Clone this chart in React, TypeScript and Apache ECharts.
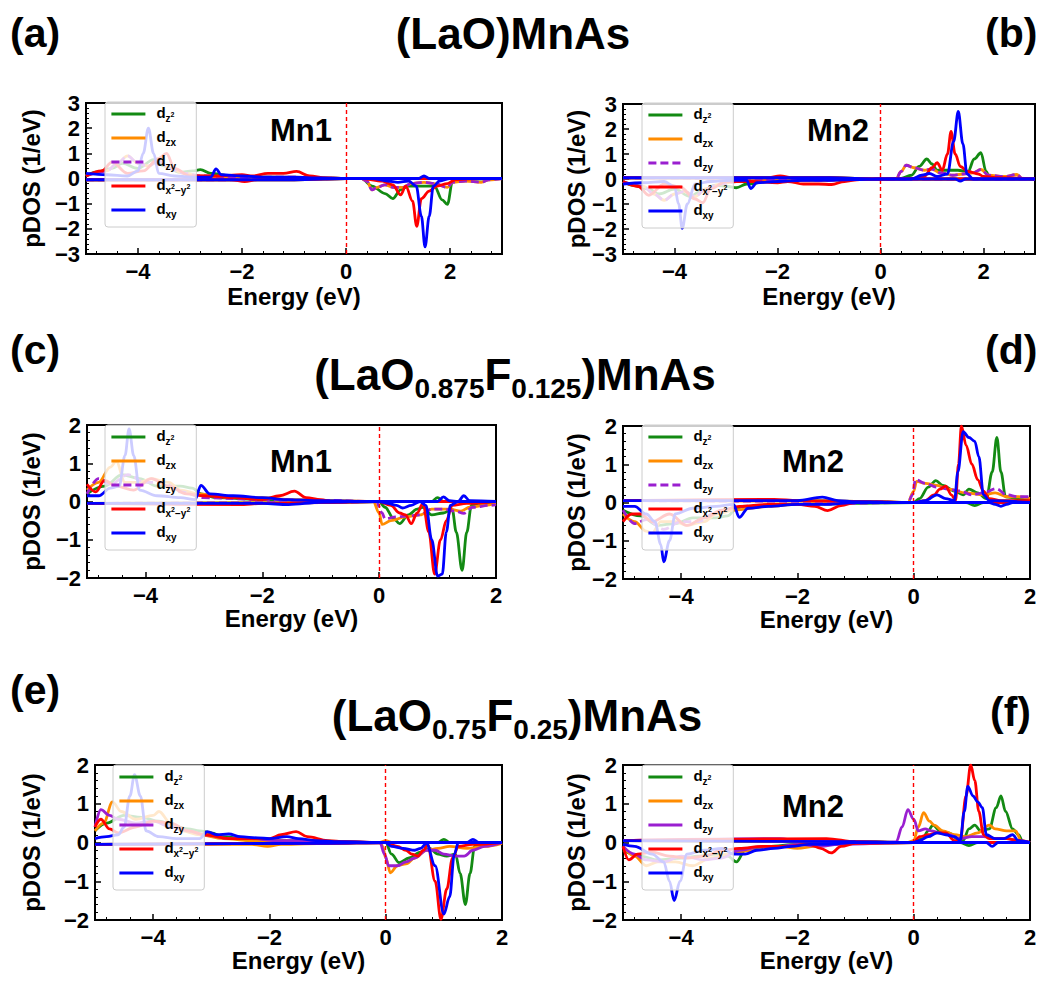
import React, { useEffect, useRef } from 'react';
import * as echarts from 'echarts';

const FONT = '"Liberation Sans", Arial, Helvetica, sans-serif';

// ---------- data: [energy (eV), pDOS (1/eV)] ----------
// Panel (a) (LaO)MnAs Mn1
const A_z2_up = [[-5,0.1],[-4.8,0.25],[-4.5,0.4],[-4.3,0.6],[-4.0,0.4],[-3.7,0.75],[-3.5,0.5],[-3.2,0.25],[-2.95,0.3],[-2.8,0.35],[-2.6,0.2],[-2.2,0.1],[-1.5,0.05],[-0.5,0.02],[0,0],[3,0]];
const A_z2_dn = [[-5,-0.05],[-1,-0.05],[0,0],[0.3,0],[0.5,-0.3],[0.75,-0.6],[0.9,-0.8],[1.05,-0.45],[1.2,-0.3],[1.5,-0.3],[1.7,-0.3],[1.85,-0.85],[1.95,-1.03],[2.05,-0.1],[2.3,-0.05],[2.8,0],[3,0]];
const A_zx_up = [[-5,0.1],[-4.6,0.3],[-4.4,0.6],[-4.2,0.9],[-4.0,0.6],[-3.8,0.5],[-3.6,0.7],[-3.4,0.4],[-3.1,0.2],[-2.8,0.1],[-2,0.05],[-1,0.05],[-0.5,0.02],[0,0],[3,0]];
const A_zx_dn = [[-5,-0.05],[-2,-0.05],[-1,-0.03],[0,0],[0.3,0],[0.4,-0.1],[0.5,-0.45],[0.6,-0.35],[0.75,-0.25],[0.9,-0.35],[1.1,-0.35],[1.25,-0.2],[1.5,-0.15],[1.7,-0.2],[1.95,-0.35],[2.05,-0.15],[2.3,-0.1],[2.6,-0.15],[2.75,-0.05],[3,0]];
const A_zy_up = [[-5,0.1],[-4.6,0.3],[-4.4,0.6],[-4.2,0.9],[-4.0,0.6],[-3.8,0.5],[-3.6,0.7],[-3.4,0.4],[-3.1,0.2],[-2.8,0.1],[-2,0.05],[-1,0.05],[-0.5,0.02],[0,0],[3,0]];
const A_zy_dn = [[-5,-0.05],[-2,-0.05],[-1,-0.03],[0,0],[0.3,0],[0.4,-0.1],[0.5,-0.45],[0.6,-0.35],[0.75,-0.25],[0.9,-0.35],[1.1,-0.35],[1.25,-0.2],[1.5,-0.15],[1.7,-0.2],[1.95,-0.35],[2.05,-0.15],[2.3,-0.1],[2.6,-0.15],[2.75,-0.05],[3,0]];
const A_x2_up = [[-5,0.1],[-4.7,0.3],[-4.5,0.65],[-4.2,0.2],[-3.9,0.3],[-3.6,0.8],[-3.45,1.0],[-3.3,0.4],[-3.0,0.1],[-2.5,0.1],[-2.0,0.15],[-1.8,0.1],[-1.5,0.2],[-1.2,0.2],[-0.95,0.28],[-0.7,0.1],[-0.4,0.02],[0,0],[3,0]];
const A_x2_dn = [[-5,-0.05],[-2.2,-0.05],[-1.95,-0.12],[-1.7,-0.05],[-1,-0.05],[0,0],[0.3,0],[0.7,-0.1],[0.9,-0.25],[1.05,-0.65],[1.15,-0.3],[1.28,-0.9],[1.36,-1.9],[1.45,-0.8],[1.6,-0.5],[1.75,-0.3],[1.95,-0.2],[2.1,-0.05],[2.5,0],[3,0]];
const A_xy_up = [[-5,0.2],[-4.6,0.15],[-4.2,0.1],[-4.0,0.3],[-3.9,1.0],[-3.8,2.0],[-3.7,1.0],[-3.6,0.2],[-3.3,0.1],[-2.9,0.05],[-2.6,0.05],[-2.5,0.38],[-2.4,0.15],[-2.0,0.1],[-1.5,0.05],[-1.0,0.05],[-0.5,0.02],[0,0],[1.4,0],[1.5,0.1],[1.6,0],[3,0]];
const A_xy_dn = [[-5,-0.05],[-1,-0.05],[0,0],[0.5,0],[0.8,-0.1],[1.0,-0.15],[1.2,-0.1],[1.35,-0.3],[1.45,-1.5],[1.52,-2.72],[1.6,-1.5],[1.68,-0.3],[1.8,-0.1],[2.0,0],[3,0]];

// Panel (b) (LaO)MnAs Mn2
const B_z2_up = [[-5,0.05],[-2,0.05],[-1,0.05],[0,0],[0.4,0.02],[0.6,0.15],[0.75,0.5],[0.9,0.8],[1.0,0.6],[1.1,0.35],[1.3,0.35],[1.5,0.35],[1.7,0.3],[1.82,0.8],[1.95,1.05],[2.05,0.3],[2.12,0.05],[3,0]];
const B_z2_dn = [[-5,-0.1],[-4.8,-0.25],[-4.5,-0.4],[-4.3,-0.6],[-4.0,-0.4],[-3.7,-0.7],[-3.5,-0.5],[-3.2,-0.25],[-2.95,-0.3],[-2.8,-0.35],[-2.6,-0.2],[-2.2,-0.1],[-1.5,-0.05],[-0.5,-0.02],[0,0],[3,0]];
const B_zx_up = [[-5,0.05],[-1,0.03],[0,0],[0.3,0],[0.4,0.3],[0.5,0.55],[0.65,0.45],[0.85,0.35],[1.0,0.4],[1.15,0.25],[1.4,0.15],[1.6,0.2],[1.8,0.25],[1.95,0.38],[2.1,0.15],[2.4,0.1],[2.65,0.18],[2.75,0.02],[3,0]];
const B_zx_dn = [[-5,-0.1],[-4.6,-0.3],[-4.4,-0.6],[-4.2,-0.85],[-4.0,-0.6],[-3.8,-0.5],[-3.6,-0.7],[-3.4,-0.4],[-3.1,-0.2],[-2.8,-0.1],[-2,-0.05],[-1,-0.05],[-0.5,-0.02],[0,0],[3,0]];
const B_zy_up = [[-5,0.05],[-1,0.03],[0,0],[0.3,0],[0.4,0.3],[0.5,0.55],[0.65,0.45],[0.85,0.35],[1.0,0.4],[1.15,0.25],[1.4,0.15],[1.6,0.2],[1.8,0.25],[1.95,0.38],[2.1,0.15],[2.4,0.1],[2.65,0.18],[2.75,0.02],[3,0]];
const B_zy_dn = [[-5,-0.1],[-4.6,-0.3],[-4.4,-0.6],[-4.2,-0.85],[-4.0,-0.6],[-3.8,-0.5],[-3.6,-0.7],[-3.4,-0.4],[-3.1,-0.2],[-2.8,-0.1],[-2,-0.05],[-1,-0.05],[-0.5,-0.02],[0,0],[3,0]];
const B_x2_up = [[-5,0.05],[-2.2,0.05],[-1.95,0.12],[-1.7,0.05],[-1,0.05],[0,0],[0.6,0.02],[0.85,0.1],[1.0,0.45],[1.1,0.65],[1.2,0.35],[1.3,1.0],[1.37,1.9],[1.45,1.0],[1.55,0.5],[1.7,0.3],[1.9,0.2],[2.0,0.1],[2.3,0.05],[3,0]];
const B_x2_dn = [[-5,-0.1],[-4.7,-0.3],[-4.5,-0.65],[-4.2,-0.2],[-3.9,-0.3],[-3.6,-0.8],[-3.45,-0.95],[-3.3,-0.4],[-3.0,-0.1],[-2.5,-0.1],[-2.0,-0.15],[-1.8,-0.1],[-1.5,-0.2],[-1.2,-0.2],[-0.95,-0.22],[-0.7,-0.1],[-0.4,-0.02],[0,0],[3,0]];
const B_xy_up = [[-5,0.05],[-1,0.05],[0,0],[0.6,0],[0.8,0.15],[0.95,0.22],[1.1,0.1],[1.3,0.2],[1.42,1.5],[1.51,2.7],[1.6,1.4],[1.68,0.2],[1.8,0],[3,0]];
const B_xy_dn = [[-5,-0.2],[-4.6,-0.15],[-4.2,-0.1],[-4.0,-0.3],[-3.92,-1.0],[-3.85,-1.97],[-3.75,-1.0],[-3.6,-0.2],[-3.3,-0.1],[-2.9,-0.05],[-2.6,-0.05],[-2.52,-0.38],[-2.4,-0.15],[-2.0,-0.1],[-1.5,-0.05],[-1.0,-0.05],[-0.5,-0.02],[0,0],[1.45,0],[1.55,-0.08],[1.65,0],[3,0]];

// Panel (c) (LaO0.875F0.125)MnAs Mn1
const C_z2_up = [[-5,0.2],[-4.7,0.4],[-4.4,0.7],[-4.1,0.6],[-3.8,0.4],[-3.4,0.4],[-3.2,0.35],[-3.05,0.2],[-2.8,0.1],[-2.0,0.05],[0,0],[0.9,0],[1.0,0.1],[1.1,0],[2,0]];
const C_z2_dn = [[-5,-0.05],[-1,-0.03],[0,0],[0.1,-0.15],[0.25,-0.45],[0.35,-0.58],[0.5,-0.35],[0.65,-0.2],[0.75,-0.15],[0.9,-0.35],[1.1,-0.3],[1.25,-0.2],[1.32,-0.8],[1.42,-1.8],[1.5,-0.8],[1.58,-0.1],[1.7,-0.05],[2,0]];
const C_zx_up = [[-5,0.3],[-4.8,0.5],[-4.6,0.9],[-4.5,1.05],[-4.35,0.5],[-4.1,0.5],[-3.9,0.6],[-3.6,0.5],[-3.4,0.3],[-3.1,0.2],[-2.5,0.1],[-2.0,0.1],[-1.5,0.05],[-1.0,0.03],[0,0],[2,0]];
const C_zx_dn = [[-5,-0.05],[-1,-0.03],[-0.1,0],[0,-0.3],[0.05,-0.6],[0.2,-0.5],[0.45,-0.4],[0.7,-0.35],[0.9,-0.2],[1.2,-0.2],[1.4,-0.25],[1.55,-0.15],[1.8,-0.1],[2,-0.05]];
const C_zy_up = [[-5,0.2],[-4.8,0.6],[-4.6,0.45],[-4.3,0.7],[-4.0,0.5],[-3.7,0.5],[-3.4,0.25],[-3.0,0.1],[-2.0,0.05],[-1.0,0.03],[0,0],[2,0]];
const C_zy_dn = [[-5,-0.05],[-1,-0.03],[-0.05,0],[0.05,-0.3],[0.1,-0.45],[0.3,-0.4],[0.5,-0.38],[0.7,-0.35],[0.9,-0.2],[1.1,-0.2],[1.3,-0.25],[1.45,-0.31],[1.6,-0.15],[1.9,-0.1],[2,-0.08]];
const C_x2_up = [[-5,0.45],[-4.85,0.25],[-4.7,0.55],[-4.5,0.4],[-4.2,0.3],[-3.9,0.6],[-3.6,0.4],[-3.3,0.2],[-3.0,0.15],[-2.5,0.1],[-2.0,0.05],[-1.7,0.15],[-1.45,0.27],[-1.25,0.1],[-1.0,0.05],[-0.8,0],[2,0]];
const C_x2_dn = [[-5,-0.05],[-2.4,-0.08],[-2,-0.05],[-1,-0.03],[0,0],[0.2,-0.1],[0.35,-0.3],[0.45,-0.35],[0.55,-0.58],[0.65,-0.3],[0.75,-0.05],[0.85,-0.8],[0.95,-1.9],[1.05,-1.0],[1.15,-0.5],[1.25,-0.1],[1.5,-0.05],[2,0]];
const C_xy_up = [[-5,0.15],[-4.8,0.15],[-4.6,0.35],[-4.45,0.4],[-4.35,1.2],[-4.28,1.9],[-4.2,1.2],[-4.1,0.3],[-3.8,0.15],[-3.4,0.1],[-3.15,0.05],[-3.05,0.42],[-2.9,0.2],[-2.5,0.15],[-2.0,0.1],[-1.6,0.05],[-1.0,0.02],[0,0],[1.0,0],[1.1,0.12],[1.2,0.02],[1.35,0],[1.45,0.15],[1.55,0.02],[2,0]];
const C_xy_dn = [[-5,-0.05],[-2,-0.05],[-1.55,-0.08],[-1,-0.02],[0,0],[0.15,-0.05],[0.3,-0.1],[0.4,-0.17],[0.55,-0.1],[0.7,0],[0.8,-0.1],[0.9,-1.0],[1.0,-1.95],[1.08,-1.9],[1.15,-0.8],[1.22,-0.1],[1.35,0],[2,0]];

// Panel (d) (LaO0.875F0.125)MnAs Mn2
const D_z2_up = [[-5,0.05],[-2,0.05],[-1,0.03],[0,0],[0.1,0.1],[0.25,0.4],[0.38,0.57],[0.5,0.45],[0.7,0.3],[0.85,0.2],[0.95,0.35],[1.1,0.25],[1.25,0.1],[1.35,0.8],[1.43,1.7],[1.5,0.8],[1.58,0.15],[1.8,0.1],[2,0.1]];
const D_z2_dn = [[-5,-0.2],[-4.7,-0.35],[-4.4,-0.6],[-4.1,-0.55],[-3.8,-0.4],[-3.4,-0.4],[-3.2,-0.35],[-3.05,-0.15],[-2.9,-0.1],[-2,-0.05],[0,0],[0.9,0],[1.05,-0.08],[1.2,0],[2,0]];
const D_zx_up = [[-5,0.05],[-1,0.03],[-0.1,0],[0,0.3],[0.05,0.55],[0.2,0.5],[0.4,0.45],[0.6,0.35],[0.9,0.25],[1.2,0.2],[1.4,0.25],[1.6,0.15],[1.8,0.15],[2,0.1]];
const D_zx_dn = [[-5,-0.3],[-4.8,-0.5],[-4.6,-0.75],[-4.5,-0.8],[-4.35,-0.5],[-4.1,-0.5],[-3.9,-0.6],[-3.6,-0.5],[-3.4,-0.3],[-3.1,-0.2],[-2.5,-0.1],[-2,-0.05],[-1,0],[0,0],[2,0]];
const D_zy_up = [[-5,0.05],[-1,0.03],[-0.1,0],[-0.02,0.2],[0.03,0.6],[0.2,0.5],[0.4,0.4],[0.6,0.35],[0.8,0.3],[1.0,0.2],[1.2,0.25],[1.42,0.36],[1.6,0.2],[1.8,0.15],[2,0.15]];
const D_zy_dn = [[-5,-0.2],[-4.8,-0.55],[-4.6,-0.45],[-4.3,-0.7],[-4.0,-0.5],[-3.7,-0.5],[-3.4,-0.25],[-3.0,-0.1],[-2,-0.05],[0,0],[2,0]];
const D_x2_up = [[-5,0.05],[-2.4,0.08],[-2,0.05],[-1,0.03],[0,0],[0.2,0.05],[0.35,0.2],[0.45,0.35],[0.55,0.43],[0.65,0.2],[0.72,0.05],[0.77,1.0],[0.82,2.0],[0.9,1.5],[1.0,1.0],[1.1,0.6],[1.2,0.3],[1.3,0.1],[1.5,0.05],[2,0.05]];
const D_x2_dn = [[-5,-0.5],[-4.85,-0.3],[-4.7,-0.3],[-4.5,-0.5],[-4.2,-0.3],[-3.9,-0.6],[-3.6,-0.4],[-3.3,-0.2],[-3.0,-0.1],[-2.5,-0.05],[-2,-0.05],[-1.7,-0.1],[-1.48,-0.21],[-1.25,-0.08],[-1,0],[0,0],[2,0]];
const D_xy_up = [[-5,0.05],[-2,0.05],[-1.57,0.14],[-1.3,0.05],[-1,0.02],[0,0],[0.2,0.05],[0.4,0.2],[0.55,0.1],[0.7,0.05],[0.76,0.8],[0.85,1.85],[0.95,1.7],[1.05,1.6],[1.12,1.2],[1.2,0.2],[1.3,0.05],[2,0]];
const D_xy_dn = [[-5,-0.1],[-4.8,-0.1],[-4.6,-0.3],[-4.45,-0.5],[-4.35,-1.1],[-4.3,-1.55],[-4.2,-1.0],[-4.1,-0.3],[-3.8,-0.15],[-3.4,-0.1],[-3.1,-0.05],[-3.0,-0.39],[-2.85,-0.15],[-2.5,-0.1],[-2,-0.05],[-1.5,-0.05],[-1,0],[0,0],[1.3,0],[1.4,-0.05],[1.5,-0.1],[1.6,-0.05],[1.7,0],[2,0]];

// Panel (e) (LaO0.75F0.25)MnAs Mn1
const E_z2_up = [[-5,0.3],[-4.8,0.5],[-4.5,0.7],[-4.2,0.65],[-3.9,0.55],[-3.6,0.4],[-3.4,0.35],[-3.2,0.3],[-3.0,0.25],[-2.8,0.15],[-2.3,0.05],[-1.5,0.05],[0,0],[0.9,0],[1.0,0.08],[1.1,0],[2,0]];
const E_z2_dn = [[-5,-0.05],[-1,-0.02],[0,0],[0.1,-0.3],[0.23,-0.52],[0.4,-0.4],[0.6,-0.25],[0.75,-0.15],[0.9,-0.3],[1.05,-0.35],[1.2,-0.3],[1.28,-0.8],[1.37,-1.6],[1.45,-0.8],[1.53,-0.1],[1.7,-0.05],[2,0]];
const E_zx_up = [[-5,0.3],[-4.85,0.5],[-4.7,1.05],[-4.55,0.8],[-4.3,0.6],[-4.0,0.7],[-3.9,0.8],[-3.7,0.5],[-3.5,0.3],[-3.2,0.2],[-2.8,0.1],[-2.3,0.05],[-1.8,0.05],[-1,0.02],[-0.1,0],[0,0.05],[0.1,0],[2,0]];
const E_zx_dn = [[-5,-0.05],[-2.3,-0.05],[-2.03,-0.1],[-1.8,-0.05],[-1,-0.02],[-0.1,0],[-0.05,-0.1],[0.0,-0.4],[0.08,-0.78],[0.2,-0.6],[0.35,-0.55],[0.5,-0.4],[0.7,-0.2],[0.9,-0.15],[1.1,-0.1],[1.4,-0.15],[1.7,-0.1],[2,-0.02]];
const E_zy_up = [[-5,0.4],[-4.9,0.85],[-4.75,0.7],[-4.6,0.6],[-4.3,0.5],[-4.0,0.55],[-3.7,0.4],[-3.4,0.3],[-3.1,0.2],[-2.7,0.1],[-2.3,0.1],[-1.9,0.05],[-1.5,0.05],[-1,0.02],[0,0],[2,0]];
const E_zy_dn = [[-5,-0.05],[-1,-0.02],[-0.1,0],[-0.02,-0.3],[0.05,-0.6],[0.2,-0.6],[0.35,-0.5],[0.5,-0.4],[0.7,-0.2],[0.85,-0.2],[1.0,-0.3],[1.2,-0.35],[1.35,-0.35],[1.5,-0.2],[1.7,-0.1],[2,0]];
const E_x2_up = [[-5,0.4],[-4.9,0.6],[-4.75,0.35],[-4.6,0.25],[-4.3,0.4],[-4.0,0.55],[-3.7,0.5],[-3.4,0.3],[-3.1,0.2],[-2.7,0.1],[-2.3,0.1],[-2.0,0.1],[-1.8,0.2],[-1.54,0.28],[-1.35,0.15],[-1.0,0.05],[-0.7,0.02],[0,0],[2,0]];
const E_x2_dn = [[-5,-0.05],[-1,-0.02],[0,0],[0.2,-0.1],[0.35,-0.2],[0.45,-0.3],[0.55,-0.35],[0.65,-0.2],[0.72,-0.05],[0.85,-1.0],[0.95,-1.98],[1.05,-1.2],[1.15,-0.4],[1.25,-0.1],[1.5,-0.05],[2,0]];
const E_xy_up = [[-5,0.1],[-4.8,0.15],[-4.6,0.2],[-4.5,0.4],[-4.4,1.2],[-4.32,1.75],[-4.22,1.2],[-4.12,0.3],[-3.9,0.15],[-3.6,0.1],[-3.2,0.1],[-3.07,0.28],[-2.9,0.2],[-2.7,0.22],[-2.5,0.15],[-2.2,0.12],[-2,0.1],[-1.7,0.15],[-1.5,0.1],[-1.2,0.05],[-0.8,0.02],[0,0],[1.4,0],[1.5,0.08],[1.6,0],[2,0]];
const E_xy_dn = [[-5,-0.05],[-1,-0.02],[0,0],[0.1,-0.1],[0.3,-0.15],[0.5,-0.2],[0.6,-0.15],[0.7,-0.02],[0.85,-0.6],[1.0,-1.85],[1.1,-1.4],[1.18,-0.3],[1.25,0],[2,0]];

// Panel (f) (LaO0.75F0.25)MnAs Mn2
const F_z2_up = [[-5,0.05],[-1,0.02],[0,0],[0.15,0.1],[0.25,0.3],[0.33,0.45],[0.45,0.3],[0.6,0.25],[0.75,0.1],[0.85,0.05],[0.95,0.35],[1.05,0.45],[1.15,0.3],[1.3,0.35],[1.42,0.9],[1.5,1.2],[1.58,0.8],[1.7,0.35],[1.8,0.2],[1.88,0.02],[2,0]];
const F_z2_dn = [[-5,-0.2],[-4.7,-0.35],[-4.4,-0.45],[-4.0,-0.4],[-3.7,-0.35],[-3.4,-0.3],[-3.2,-0.35],[-3.05,-0.5],[-2.9,-0.2],[-2.5,-0.1],[-2,-0.05],[0,0],[0.8,0],[0.95,-0.08],[1.1,0],[2,0]];
const F_zx_up = [[-5,0.05],[-1,0.02],[-0.1,0],[0,0.05],[0.08,0.4],[0.17,0.77],[0.27,0.55],[0.35,0.45],[0.5,0.3],[0.7,0.2],[0.9,0.15],[1.1,0.25],[1.3,0.45],[1.4,0.35],[1.6,0.3],[1.75,0.3],[1.85,0.05],[2,0]];
const F_zx_dn = [[-5,-0.1],[-4.8,-0.35],[-4.6,-0.6],[-4.4,-0.5],[-4.1,-0.5],[-3.8,-0.6],[-3.5,-0.4],[-3.2,-0.3],[-2.8,-0.2],[-2.3,-0.1],[-2.0,-0.15],[-1.7,-0.1],[-1.4,-0.05],[-1,-0.02],[0,0],[2,0]];
const F_zy_up = [[-5,0.05],[-2.3,0.1],[-2,0.05],[-1,0.02],[-0.5,0],[-0.3,0.02],[-0.2,0.4],[-0.1,0.85],[0.0,0.6],[0.08,0.3],[0.2,0.35],[0.3,0.3],[0.45,0.25],[0.6,0.2],[0.8,0.1],[1.0,0.15],[1.2,0.15],[1.4,0.1],[1.6,0.1],[1.8,0.05],[2,0]];
const F_zy_dn = [[-5,-0.1],[-4.8,-0.3],[-4.6,-0.45],[-4.3,-0.5],[-4.0,-0.35],[-3.6,-0.45],[-3.3,-0.4],[-3.0,-0.2],[-2.6,-0.1],[-2.3,-0.1],[-2.0,-0.05],[-1.6,-0.1],[-1.3,-0.05],[0,0],[2,0]];
const F_x2_up = [[-5,0.05],[-1.5,0.1],[-1,0.02],[0,0],[0.1,0.15],[0.25,0.2],[0.4,0.25],[0.55,0.25],[0.7,0.05],[0.8,0.05],[0.9,1.2],[0.98,2.0],[1.05,1.6],[1.12,0.8],[1.2,0.2],[1.3,0.1],[1.6,0.1],[1.8,0.05],[2,0]];
const F_x2_dn = [[-5,-0.1],[-4.9,-0.45],[-4.75,-0.3],[-4.5,-0.25],[-4.2,-0.35],[-3.9,-0.4],[-3.6,-0.35],[-3.3,-0.2],[-3.0,-0.15],[-2.6,-0.1],[-2.2,-0.1],[-1.8,-0.05],[-1.6,-0.15],[-1.42,-0.27],[-1.25,-0.1],[-1,-0.02],[0,0],[2,0]];
const F_xy_up = [[-5,0.05],[-1,0.02],[0,0],[0.1,0.05],[0.25,0.15],[0.4,0.25],[0.55,0.2],[0.7,0.15],[0.8,0.05],[0.87,0.8],[0.93,1.45],[1.02,1.2],[1.1,1.05],[1.18,0.9],[1.25,0.2],[1.4,0.1],[1.55,0.1],[1.7,0.2],[1.8,0.05],[2,0]];
const F_xy_dn = [[-5,-0.05],[-4.8,-0.1],[-4.5,-0.3],[-4.3,-0.5],[-4.2,-1.0],[-4.12,-1.5],[-4.02,-1.0],[-3.9,-0.3],[-3.6,-0.2],[-3.3,-0.15],[-3.1,-0.3],[-2.9,-0.3],[-2.7,-0.2],[-2.4,-0.15],[-2.1,-0.1],[-1.8,-0.05],[-1.5,-0.05],[-1,0],[0,0],[1.25,0],[1.35,-0.1],[1.45,0],[2,0]];

const ORBITALS = ['z2', 'zx', 'zy', 'x2', 'xy'];
const ORB_COLORS: Record<string, string> = { z2: '#138a13', zx: '#ff8c00', zy: '#9a1fd0', x2: '#ff0000', xy: '#0000ff' };
const LEGEND_LABELS: Record<string, string> = {
  z2: '{m|d}{s|z}{p|2}',
  zx: '{m|d}{s|zx}',
  zy: '{m|d}{s|zy}',
  x2: '{m|d}{s|x}{p|2}{s|\u2212y}{p|2}',
  xy: '{m|d}{s|xy}',
};

const PANEL_DATA: Record<string, Record<string, number[][][]>> = {
  a: { z2: [A_z2_up, A_z2_dn], zx: [A_zx_up, A_zx_dn], zy: [A_zy_up, A_zy_dn], x2: [A_x2_up, A_x2_dn], xy: [A_xy_up, A_xy_dn] },
  b: { z2: [B_z2_up, B_z2_dn], zx: [B_zx_up, B_zx_dn], zy: [B_zy_up, B_zy_dn], x2: [B_x2_up, B_x2_dn], xy: [B_xy_up, B_xy_dn] },
  c: { z2: [C_z2_up, C_z2_dn], zx: [C_zx_up, C_zx_dn], zy: [C_zy_up, C_zy_dn], x2: [C_x2_up, C_x2_dn], xy: [C_xy_up, C_xy_dn] },
  d: { z2: [D_z2_up, D_z2_dn], zx: [D_zx_up, D_zx_dn], zy: [D_zy_up, D_zy_dn], x2: [D_x2_up, D_x2_dn], xy: [D_xy_up, D_xy_dn] },
  e: { z2: [E_z2_up, E_z2_dn], zx: [E_zx_up, E_zx_dn], zy: [E_zy_up, E_zy_dn], x2: [E_x2_up, E_x2_dn], xy: [E_xy_up, E_xy_dn] },
  f: { z2: [F_z2_up, F_z2_dn], zx: [F_zx_up, F_zx_dn], zy: [F_zy_up, F_zy_dn], x2: [F_x2_up, F_x2_dn], xy: [F_xy_up, F_xy_dn] },
};

// ---------- layout ----------
const PANELS = [
  { key: 'a', left: 86, top: 103, width: 416, height: 151, xMax: 3, yMin: -3, yMax: 3, lgLeft: 105, lgTop: 102, gapY: 43, gapX: 30, mn: 'Mn1', mnX: 301, mnY: 130, dashedZy: true },
  { key: 'b', left: 623, top: 104, width: 412, height: 150, xMax: 3, yMin: -3, yMax: 3, lgLeft: 642, lgTop: 103, gapY: 34, gapX: 30, mn: 'Mn2', mnX: 838, mnY: 130, dashedZy: true },
  { key: 'c', left: 87, top: 425, width: 409, height: 153, xMax: 2, yMin: -2, yMax: 2, lgLeft: 105, lgTop: 425, gapY: 44, gapX: 27, mn: 'Mn1', mnX: 301, mnY: 461, dashedZy: true },
  { key: 'd', left: 623, top: 426, width: 407, height: 153, xMax: 2, yMin: -2, yMax: 2, lgLeft: 642, lgTop: 425, gapY: 34, gapX: 27, mn: 'Mn2', mnX: 813, mnY: 461, dashedZy: true },
  { key: 'e', left: 95, top: 765, width: 407, height: 155, xMax: 2, yMin: -2, yMax: 2, lgLeft: 113, lgTop: 765, gapY: 52, gapX: 26, mn: 'Mn1', mnX: 301, mnY: 806, dashedZy: false },
  { key: 'f', left: 623, top: 765, width: 407, height: 155, xMax: 2, yMin: -2, yMax: 2, lgLeft: 642, lgTop: 765, gapY: 34, gapX: 26, mn: 'Mn2', mnX: 813, mnY: 806, dashedZy: false },
];

const fmtTick = (v: number) => (v < 0 ? '\u2212' + Math.abs(v) : String(v));

function buildOption() {
  const grid: any[] = [];
  const xAxis: any[] = [];
  const yAxis: any[] = [];
  const legend: any[] = [];
  const series: any[] = [];
  const graphic: any[] = [];

  PANELS.forEach((p, i) => {
    grid.push({ left: p.left, top: p.top, width: p.width, height: p.height, show: true, borderColor: '#000', borderWidth: 2, backgroundColor: 'transparent' });
    xAxis.push({
      gridIndex: i, type: 'value', min: -5, max: p.xMax, splitNumber: p.xMax === 3 ? 4 : 3,
      name: 'Energy (eV)', nameLocation: 'middle', nameGap: p.gapX,
      nameTextStyle: { fontFamily: FONT, fontWeight: 'bold', fontSize: 24, color: '#000' },
      axisLine: { show: true, onZero: false, lineStyle: { color: '#000', width: 2 } },
      axisTick: { show: true, inside: true, length: 6, lineStyle: { color: '#000', width: 1.5 } },
      minorTick: { show: true, splitNumber: 5, length: 3, lineStyle: { color: '#000', width: 1 } },
      splitLine: { show: false },
      axisLabel: { fontFamily: FONT, fontWeight: 'bold', fontSize: 22, color: '#000', margin: 6, showMinLabel: false, showMaxLabel: p.xMax === 2, formatter: fmtTick },
    });
    yAxis.push({
      gridIndex: i, type: 'value', min: p.yMin, max: p.yMax, interval: 1,
      name: 'pDOS (1/eV)', nameLocation: 'middle', nameGap: p.gapY,
      nameTextStyle: { fontFamily: FONT, fontWeight: 'bold', fontSize: 24, color: '#000' },
      axisLine: { show: true, onZero: false, lineStyle: { color: '#000', width: 2 } },
      axisTick: { show: true, inside: true, length: 6, lineStyle: { color: '#000', width: 1.5 } },
      minorTick: { show: true, splitNumber: 5, length: 3, lineStyle: { color: '#000', width: 1 } },
      splitLine: { show: false },
      axisLabel: { fontFamily: FONT, fontWeight: 'bold', fontSize: 22, color: '#000', margin: 6, formatter: fmtTick },
    });
    legend.push({
      show: true, orient: 'vertical', left: p.lgLeft, top: p.lgTop, z: 20,
      data: ORBITALS.map((o) => o + '_' + p.key),
      selectedMode: false,
      itemWidth: 34, itemHeight: 14, itemGap: 6,
      padding: [3, 6, 8, 5],
      backgroundColor: 'rgba(255,255,255,0.8)', borderColor: '#cccccc', borderWidth: 1, borderRadius: 3,
      itemStyle: { color: 'rgba(0,0,0,0)', borderColor: 'rgba(0,0,0,0)', borderWidth: 0, opacity: 0 },
      lineStyle: { width: 2.8 },
      formatter: (name: string) => LEGEND_LABELS[name.split('_')[0]],
      textStyle: {
        color: '#000', fontFamily: FONT, fontWeight: 'bold', padding: [0, 0, 0, 6],
        rich: {
          m: { fontFamily: FONT, fontWeight: 'bold', fontSize: 15, lineHeight: 18, verticalAlign: 'top', color: '#000' },
          s: { fontFamily: FONT, fontWeight: 'bold', fontSize: 10, lineHeight: 10, verticalAlign: 'bottom', color: '#000' },
          p: { fontFamily: FONT, fontWeight: 'bold', fontSize: 7, lineHeight: 7, verticalAlign: 'middle', color: '#000' },
        },
      },
    });

    ORBITALS.forEach((o, oi) => {
      const dashed = o === 'zy' && p.dashedZy;
      const pair = PANEL_DATA[p.key][o];
      pair.forEach((d, si) => {
        const s: any = {
          type: 'line', name: o + '_' + p.key, xAxisIndex: i, yAxisIndex: i, data: d,
          symbol: 'none', showSymbol: false, smooth: 0.35, smoothMonotone: 'x', clip: true,
          lineStyle: { color: ORB_COLORS[o], width: 2.8, type: dashed ? [8, 4] : 'solid' },
          itemStyle: { color: ORB_COLORS[o] },
          emphasis: { disabled: true }, silent: true, z: 2 + oi,
        };
        if (oi === 0 && si === 0) {
          s.markLine = {
            silent: true, symbol: 'none', label: { show: false },
            lineStyle: { color: '#ff0000', type: [4, 3], width: 1.4, opacity: 1 },
            data: [{ xAxis: 0 }],
          };
        }
        series.push(s);
      });
    });

    graphic.push({
      type: 'text', x: p.mnX, y: p.mnY, z: 10,
      style: { text: p.mn, fontFamily: FONT, fontWeight: 'bold', fontSize: 31, fill: '#000', textAlign: 'center', textVerticalAlign: 'middle' },
    });
  });

  const big = { fontFamily: FONT, fontWeight: 'bold', fontSize: 44, fill: '#000' };
  const letters = [
    ['(a)', 10, 33], ['(b)', 985, 33], ['(c)', 10, 350], ['(d)', 985, 350], ['(e)', 10, 690], ['(f)', 990, 712],
  ];
  letters.forEach(([t, x, y]) => {
    graphic.push({ type: 'text', x, y, style: { ...big, text: t, fontSize: 41, textAlign: 'left', textVerticalAlign: 'middle' } });
  });
  graphic.push({ type: 'text', x: 513, y: 33, style: { ...big, text: '(LaO)MnAs', textAlign: 'center', textVerticalAlign: 'middle' } });
  const richTitle = {
    b: { fontFamily: FONT, fontWeight: 'bold', fontSize: 44, lineHeight: 50, verticalAlign: 'top', fill: '#000', color: '#000' },
    s: { fontFamily: FONT, fontWeight: 'bold', fontSize: 28, lineHeight: 14, verticalAlign: 'bottom', fill: '#000', color: '#000' },
  };
  graphic.push({ type: 'text', x: 515, y: 377, style: { text: '{b|(LaO}{s|0.875}{b|F}{s|0.125}{b|)MnAs}', rich: richTitle, textAlign: 'center', textVerticalAlign: 'middle', fontFamily: FONT } });
  graphic.push({ type: 'text', x: 517, y: 718, style: { text: '{b|(LaO}{s|0.75}{b|F}{s|0.25}{b|)MnAs}', rich: richTitle, textAlign: 'center', textVerticalAlign: 'middle', fontFamily: FONT } });

  return {
    animation: false,
    backgroundColor: '#ffffff',
    textStyle: { fontFamily: FONT },
    grid, xAxis, yAxis, legend, series, graphic,
  };
}

export default function App() {
  const ref = useRef<HTMLDivElement>(null);
  useEffect(() => {
    if (!ref.current) return;
    const chart = echarts.init(ref.current, undefined, { renderer: 'svg' });
    chart.setOption(buildOption() as any);
    return () => chart.dispose();
  }, []);
  return <div ref={ref} style={{ position: 'fixed', left: 0, top: 0, width: 1047, height: 983, background: '#fff' }} />;
}
